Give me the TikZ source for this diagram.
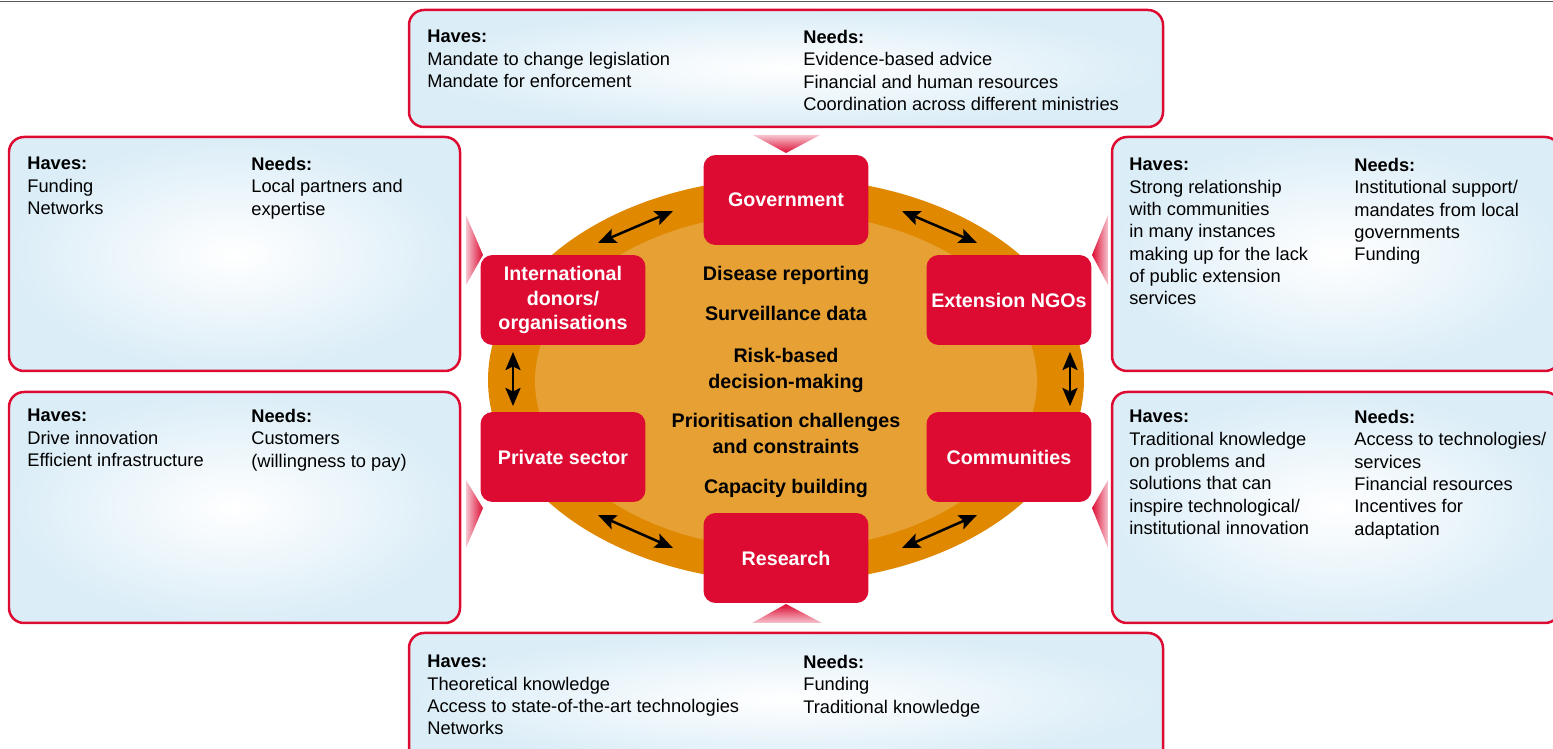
\documentclass[tikz,border=0pt]{standalone}
\usepackage{fontspec}
\setmainfont{Liberation Sans}
\usetikzlibrary{arrows.meta}

\definecolor{actorred}{RGB}{221,11,50}
\definecolor{paleblue}{RGB}{219,237,247}
\definecolor{ringorange}{RGB}{224,136,0}
\definecolor{coreorange}{RGB}{230,160,52}
\definecolor{pointerpink}{RGB}{246,196,207}

\begin{document}
\begin{tikzpicture}[x=0.02cm, y=-0.02cm,
    infobox/.style={draw=actorred, line width=0.05cm, rounded corners=0.3cm,
        inner color=white, outer color=paleblue},
    infotext/.style={anchor=north west, inner sep=0pt, align=left,
        font=\fontsize{10.4}{12.7}\selectfont},
    actor/.style={fill=actorred, text=white, rounded corners=0.24cm,
        minimum width=3.3cm, minimum height=1.8cm, inner sep=0pt, align=center,
        font=\fontsize{11.2}{14.2}\selectfont\bfseries},
    topic/.style={anchor=north, inner sep=0pt, align=center,
        font=\fontsize{11.2}{14.6}\selectfont\bfseries},
    link/.style={line width=0.05cm,
        {Stealth[length=0.36cm,width=0.3cm,inset=0.07cm]}-{Stealth[length=0.36cm,width=0.3cm,inset=0.07cm]}}]

    \useasboundingbox (0,0) rectangle (1553,749);

    % Columns of the haves/needs text
    \def\xa{27}   \def\xb{251}
    \def\xc{427}  \def\xd{803}
    \def\xe{1129} \def\xf{1354}

    % Rule on top
    \draw[black!65, line width=0.035cm] (0,1.5) -- (1553,1.5);

    % Haves/needs boxes
    \draw[infobox] (409,10) rectangle (1163,127);
    \draw[infobox] (9,137) rectangle (460,371);
    \draw[infobox] (9,392) rectangle (460,623);
    \draw[infobox] (1112,137) rectangle (1560,371);
    \draw[infobox] (1112,392) rectangle (1560,623);
    \draw[infobox] (409,633) rectangle (1163,765);

    % Pointers towards the actors
    \shade[top color=pointerpink, bottom color=actorred] (753,135) -- (820,135) -- (786,153) -- cycle;
    \shade[top color=actorred, bottom color=pointerpink] (786,604) -- (822,623) -- (752,623) -- cycle;
    \shade[left color=pointerpink, right color=actorred] (466,215) -- (483,255) -- (466,285) -- cycle;
    \shade[left color=pointerpink, right color=actorred] (466,480) -- (483,508) -- (466,548) -- cycle;
    \shade[left color=actorred, right color=pointerpink] (1108,215) -- (1092,255) -- (1108,285) -- cycle;
    \shade[left color=actorred, right color=pointerpink] (1108,480) -- (1092,508) -- (1108,548) -- cycle;

    % Ring
    \fill[ringorange] (786,380) ellipse [x radius=298, y radius=202];
    \fill[coreorange] (786,381) ellipse [x radius=251, y radius=168];

    % Links around the ring
    \coordinate (gd1) at (598,243);  \coordinate (gd2) at (673,211);
    \coordinate (gn1) at (902,211);  \coordinate (gn2) at (977,243);
    \coordinate (dp1) at (513,352);  \coordinate (dp2) at (513,406);
    \coordinate (nc1) at (1070,352); \coordinate (nc2) at (1070,406);
    \coordinate (pr1) at (598,515);  \coordinate (pr2) at (673,548);
    \coordinate (cr1) at (902,548);  \coordinate (cr2) at (977,515);
    \draw[link] (gd1) -- (gd2);
    \draw[link] (gn1) -- (gn2);
    \draw[link] (dp1) -- (dp2);
    \draw[link] (nc1) -- (nc2);
    \draw[link] (pr1) -- (pr2);
    \draw[link] (cr1) -- (cr2);

    % Actors
    \node[actor] (gov) at (786,200) {Government};
    \node[actor] (donors) at (563,300) {International\\donors/\\organisations};
    \node[actor] (ngos) at (1009,300) {Extension NGOs};
    \node[actor] (private) at (563,457) {Private sector};
    \node[actor] (communities) at (1009,457) {Communities};
    \node[actor] (research) at (786,558) {Research};

    % Shared topics
    \node[topic] (reporting) at (786,266) {Disease reporting};
    \node[topic] (surveillance) at (786,306) {Surveillance data};
    \node[topic] (riskbased) at (786,348) {Risk-based\\decision-making};
    \node[topic] (priorities) at (786,413) {Prioritisation challenges\\and constraints};
    \node[topic] (capacity) at (786,479) {Capacity building};

    % Haves and needs
    \node[infotext] (govhaves) at (\xc,30) {\textbf{Haves:}\\Mandate to change legislation\\Mandate for enforcement};
    \node[infotext] (govneeds) at (\xd,30) {\textbf{Needs:}\\Evidence-based advice\\Financial and human resources\\Coordination across different ministries};
    \node[infotext] (donorhaves) at (\xa,157) {\textbf{Haves:}\\Funding\\Networks};
    \node[infotext] (donorneeds) at (\xb,157) {\textbf{Needs:}\\Local partners and\\expertise};
    \node[infotext] (privhaves) at (\xa,409) {\textbf{Haves:}\\Drive innovation\\Efficient infrastructure};
    \node[infotext] (privneeds) at (\xb,409) {\textbf{Needs:}\\Customers\\(willingness to pay)};
    \node[infotext] (ngohaves) at (\xe,158) {\textbf{Haves:}\\Strong relationship\\with communities\\in many instances\\making up for the lack\\of public extension\\services};
    \node[infotext] (ngoneeds) at (\xf,158) {\textbf{Needs:}\\Institutional support/\\mandates from local\\governments\\Funding};
    \node[infotext] (commhaves) at (\xe,410) {\textbf{Haves:}\\Traditional knowledge\\on problems and\\solutions that can\\inspire technological/\\institutional innovation};
    \node[infotext] (commneeds) at (\xf,410) {\textbf{Needs:}\\Access to technologies/\\services\\Financial resources\\Incentives for\\adaptation};
    \node[infotext] (reshaves) at (\xc,655) {\textbf{Haves:}\\Theoretical knowledge\\Access to state-of-the-art technologies\\Networks};
    \node[infotext] (resneeds) at (\xd,655) {\textbf{Needs:}\\Funding\\Traditional knowledge};
\end{tikzpicture}
\end{document}
